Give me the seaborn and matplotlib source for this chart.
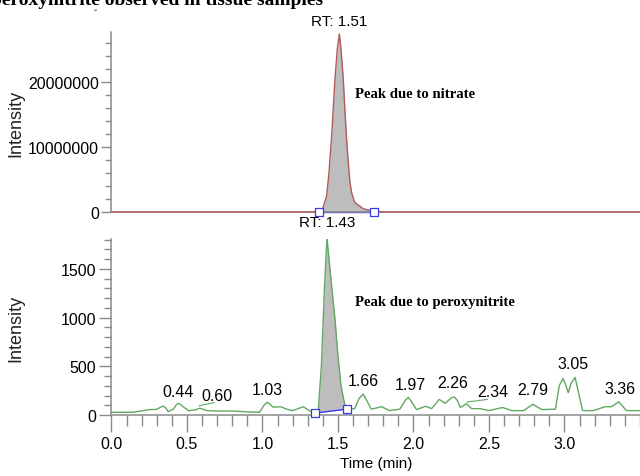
import numpy as np
import pandas as pd
import matplotlib
matplotlib.use("Agg")
import matplotlib.pyplot as plt
from matplotlib.ticker import MultipleLocator, FixedLocator
import seaborn as sns

# ---------------- data ----------------
# Top trace (nitrate), time in min, intensity
top_time = [0.0, 1.30, 1.374, 1.389, 1.40, 1.425, 1.44, 1.458, 1.47, 1.48, 1.495, 1.509,
            1.52, 1.535, 1.545, 1.557, 1.565, 1.579, 1.59, 1.61, 1.667, 1.738, 1.80, 3.5]
top_int = [0, 0, 0, 0, 0.6e6, 2.5e6, 6.0e6, 11.7e6, 16.5e6, 20.5e6, 25.0e6, 27.4e6,
           25.0e6, 20.5e6, 16.0e6, 11.2e6, 8.5e6, 4.6e6, 3.0e6, 1.5e6, 0.5e6, 0.1e6, 0, 0]
top_marks_time = [1.374, 1.738]
top_marks_int = [0, 0]
top_rt = 1.51

# Bottom trace (peroxynitrite)
bot_time = [0.0, 0.145, 0.19, 0.25, 0.30, 0.325, 0.343, 0.36, 0.376, 0.41, 0.43, 0.44,
            0.455, 0.47, 0.51, 0.55, 0.586, 0.63, 0.70, 0.81, 0.90, 0.98, 1.01, 1.03,
            1.05, 1.07, 1.12, 1.16, 1.20, 1.27, 1.31, 1.35, 1.37, 1.39, 1.41, 1.427,
            1.45, 1.48, 1.50, 1.52, 1.546, 1.557, 1.61, 1.64, 1.667, 1.69, 1.72, 1.79,
            1.84, 1.91, 1.945, 1.966, 1.985, 2.02, 2.08, 2.12, 2.17, 2.21, 2.25, 2.27,
            2.29, 2.31, 2.35, 2.385, 2.44, 2.50, 2.59, 2.65, 2.73, 2.79, 2.85, 2.94,
            2.965, 2.99, 3.01, 3.025, 3.045, 3.07, 3.09, 3.12, 3.19, 3.27, 3.31, 3.36,
            3.41, 3.50]
bot_int = [28, 28, 40, 55, 58, 80, 92, 70, 35, 60, 105, 120,
           110, 90, 45, 50, 70, 45, 40, 40, 32, 28, 100, 130,
           110, 80, 85, 60, 45, 85, 45, 20, 60, 500, 1300, 1820,
           1450, 985, 600, 300, 95, 60, 65, 170, 215, 150, 60, 85,
           45, 60, 150, 180, 140, 55, 90, 65, 160, 120, 175, 185,
           150, 77, 115, 65, 65, 45, 77, 45, 45, 110, 55, 60,
           300, 375, 300, 230, 330, 385, 250, 45, 45, 85, 85, 135,
           45, 45]
bot_marks_time = [1.35, 1.557]
bot_marks_int = [20, 60]
bot_rt = 1.43

peak_labels = ["0.44", "0.60", "1.03", "1.66", "1.97", "2.26", "2.34", "2.79", "3.05", "3.36"]

# ---------------- layout ----------------
label_pos = [(0.44, 246), (0.70, 195), (1.03, 257), (1.666, 349), (1.977, 308),
             (2.26, 329), (2.526, 246), (2.79, 257), (3.056, 524), (3.368, 267)]
leaders = [((0.58, 95), (0.68, 128)), ((2.354, 133), (2.49, 160))]

sns.set_style("ticks")
plt.rcParams["font.family"] = ["Liberation Sans", "DejaVu Sans"]

RED = "#b25a5a"
GREEN = "#62a862"
BLUE = "#3a3af0"
GRAY = "#bdbdbd"
SPINE = "#8a8a8a"
TXT = "#000000"

fig = plt.figure(figsize=(6.4, 4.77), dpi=100)
ax1 = fig.add_axes([0.1742, 0.5535, 0.8258, 0.3774])
ax2 = fig.add_axes([0.1742, 0.1279, 0.8258, 0.3690])

top_df = pd.DataFrame({"Time": top_time, "Intensity": top_int})
bot_df = pd.DataFrame({"Time": bot_time, "Intensity": bot_int})

# top panel
t = np.array(top_time); yv = np.array(top_int)
m = (t >= top_marks_time[0]) & (t <= top_marks_time[1])
ax1.fill_between(t[m], yv[m], 0, color=GRAY, lw=0, zorder=1)
sns.lineplot(data=top_df, x="Time", y="Intensity", ax=ax1, color=RED, lw=1.0,
             estimator=None, sort=False, zorder=3, clip_on=False)
ax1.plot(top_marks_time, top_marks_int, color=BLUE, lw=1.0, zorder=2, clip_on=False)
ax1.scatter(top_marks_time, top_marks_int, marker="s", s=28, facecolor="white",
            edgecolor=BLUE, linewidth=0.9, zorder=4, clip_on=False)

# bottom panel
t2 = np.array(bot_time); y2 = np.array(bot_int)
m2 = (t2 >= bot_marks_time[0]) & (t2 <= bot_marks_time[1])
base = np.interp(t2[m2], bot_marks_time, bot_marks_int)
ax2.fill_between(t2[m2], y2[m2], base, color=GRAY, lw=0, zorder=1)
sns.lineplot(data=bot_df, x="Time", y="Intensity", ax=ax2, color=GREEN, lw=1.0,
             estimator=None, sort=False, zorder=3)
ax2.plot(bot_marks_time, bot_marks_int, color=BLUE, lw=1.0, zorder=2)
ax2.scatter(bot_marks_time, bot_marks_int, marker="s", s=28, facecolor="white",
            edgecolor=BLUE, linewidth=0.9, zorder=4, clip_on=False)

for ax in (ax1, ax2):
    ax.set_xlim(0, 3.5)
    sns.despine(ax=ax)
    for s in ("left", "bottom"):
        ax.spines[s].set_color(SPINE)
        ax.spines[s].set_linewidth(1.1)
    ax.tick_params(axis="both", which="both", colors=SPINE, labelcolor=TXT,
                   labelsize=11.5, direction="out")

ax1.set_ylim(0, 27.7e6)
ax1.yaxis.set_major_locator(FixedLocator([0, 1e7, 2e7]))
ax1.set_yticklabels(["0", "10000000", "20000000"])
ax1.yaxis.set_minor_locator(MultipleLocator(2e6))
ax1.tick_params(axis="y", which="major", length=7, width=1.0, pad=2)
ax1.tick_params(axis="y", which="minor", length=4, width=1.0)
ax1.tick_params(axis="x", which="both", bottom=False, labelbottom=False)
ax1.set_xlabel("")
ax1.set_ylabel("Intensity", fontsize=13, color="#222222")
ax1.yaxis.set_label_coords(-0.165, 0.5)

ax2.set_ylim(0, 1807)
ax2.yaxis.set_major_locator(MultipleLocator(500))
ax2.yaxis.set_minor_locator(MultipleLocator(100))
ax2.xaxis.set_major_locator(FixedLocator([0.0, 0.5, 1.0, 1.5, 2.0, 2.5, 3.0]))
ax2.xaxis.set_minor_locator(MultipleLocator(0.1))
ax2.xaxis.set_major_formatter(matplotlib.ticker.FormatStrFormatter("%.1f"))
ax2.tick_params(axis="y", which="major", length=9, width=1.0, pad=2)
ax2.tick_params(axis="y", which="minor", length=5, width=1.0)
ax2.tick_params(axis="x", which="major", length=12, width=1.0, pad=3)
ax2.tick_params(axis="x", which="minor", length=8, width=1.0)
ax2.set_ylabel("Intensity", fontsize=13, color="#222222")
ax2.yaxis.set_label_coords(-0.165, 0.5)
ax2.set_xlabel("Time (min)", fontsize=11, color=TXT)
ax2.xaxis.set_label_coords(0.5, -0.235)

# annotations
ax1.text(top_rt, 29.4e6, f"RT: {top_rt:.2f}", ha="center", va="center", fontsize=11,
         color=TXT, clip_on=False)
ax2.text(1.427, 1981, f"RT: {bot_rt:.2f}", ha="center", va="center", fontsize=11,
         color=TXT, clip_on=False)
ax1.text(1.612, 18.3e6, "Peak due to nitrate", ha="left", va="center",
         family="Liberation Serif", weight="bold", fontsize=10.6, color=TXT)
ax2.text(1.612, 1170, "Peak due to peroxynitrite", ha="left", va="center",
         family="Liberation Serif", weight="bold", fontsize=10.6, color=TXT)
for lab, (lx, ly) in zip(peak_labels, label_pos):
    ax2.text(lx, ly, lab, ha="center", va="center", fontsize=11.5, color=TXT)
for (a, b) in leaders:
    ax2.plot([a[0], b[0]], [a[1], b[1]], color=GREEN, lw=0.8)

fig.text(323 / 640, 1 - 5 / 477, "peroxynitrite observed in tissue samples", ha="right",
         va="baseline", family="Liberation Serif", weight="bold", fontsize=14,
         color=TXT)
fig.text(96 / 640, 1 - 15 / 477, "ˇ", ha="center", va="center", fontsize=7, color="#333333")

fig.savefig("out.png", dpi=100)
